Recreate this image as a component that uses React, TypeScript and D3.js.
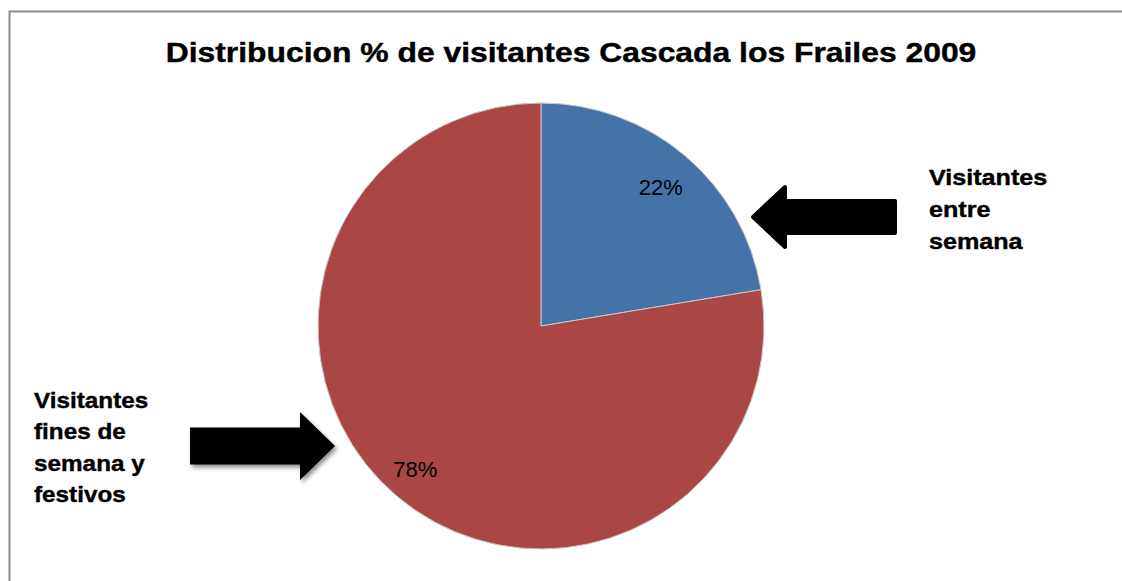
import React from "react";
import * as d3 from "d3";

const title = "Distribucion % de visitantes Cascada los Frailes 2009";
const categories = ["Visitantes entre semana", "Visitantes fines de semana y festivos"];
const values = [22.4, 77.6];
const colors = ["#4572A7", "#AA4643"];
const rightLabelLines = ["Visitantes", "entre", "semana"];
const leftLabelLines = ["Visitantes", "fines de", "semana y", "festivos"];

const W = 1122;
const H = 581;
const cx = 541;
const cy = 326;
const R = 223;

export default function App() {
  const pie = d3.pie<number>().sort(null).value((d) => d)(values);
  const arc = d3.arc<d3.PieArcDatum<number>>().innerRadius(0).outerRadius(R);
  const labelArc = d3.arc<d3.PieArcDatum<number>>().innerRadius(R * 0.83).outerRadius(R * 0.83);
  const total = d3.sum(values);

  const leftArrow = (tipX: number, tipY: number, headX: number, headHalf: number, bodyHalf: number, endX: number) =>
    `M${tipX},${tipY} L${headX},${tipY - headHalf} L${headX},${tipY - bodyHalf} L${endX},${tipY - bodyHalf} L${endX},${tipY + bodyHalf} L${headX},${tipY + bodyHalf} L${headX},${tipY + headHalf} Z`;

  const boldText = {
    fontFamily: "Liberation Sans, Arial, sans-serif",
    fontWeight: "bold" as const,
    fill: "#000",
    stroke: "#000",
    strokeWidth: 0.4,
  };

  return (
    <svg width={W} height={H} style={{ position: "absolute", left: 0, top: 0, background: "#fff" }}>
      <defs>
        <filter id="sh" x="-20%" y="-20%" width="150%" height="160%">
          <feDropShadow dx="2" dy="3" stdDeviation="2" floodColor="#000" floodOpacity="0.45" />
        </filter>
      </defs>
      <rect x={0} y={0} width={W} height={H} fill="#fff" />
      <path d={`M9.5,${H + 2} L9.5,11.5 L${W + 2},11.5`} fill="none" stroke="#8c8c8c" strokeWidth={2} />
      <text transform={`translate(571,62) scale(1.18,1)`} textAnchor="middle" fontSize={27} {...boldText}>
        {title}
      </text>
      <g transform={`translate(${cx},${cy})`}>
        {pie.map((p, i) => (
          <path key={categories[i]} d={arc(p) || ""} fill={colors[i]} stroke="#c8c8c8" strokeWidth={1} />
        ))}
        {pie.map((p, i) => {
          const [lx, ly] = labelArc.centroid(p);
          return (
            <text
              key={"l" + i}
              x={lx + (i === 1 ? -6 : 0)}
              y={ly + 10}
              textAnchor="middle"
              fontFamily="Liberation Sans, Arial, sans-serif"
              fontSize={22}
              fill="#000"
            >
              {Math.round((values[i] / total) * 100) + "%"}
            </text>
          );
        })}
      </g>
      {/* arrow pointing left to the blue slice */}
      <path
        d={leftArrow(753, 217, 785, 30, 16, 895)}
        fill="#000"
        stroke="#000"
        strokeWidth={4}
        strokeLinejoin="round"
      />
      {/* arrow pointing right to the red slice */}
      <g filter="url(#sh)">
        <path d={leftArrow(-335, 446, -300, 34, 18.5, -190)} transform="scale(-1,1)" fill="#000" />
      </g>
      {rightLabelLines.map((t, i) => (
        <text key={"r" + i} transform={`translate(929,${185 + i * 32}) scale(1.17,1)`} fontSize={21.5} {...boldText}>
          {t}
        </text>
      ))}
      {leftLabelLines.map((t, i) => (
        <text key={"lt" + i} transform={`translate(34,${408 + i * 31.3}) scale(1.13,1)`} fontSize={21.5} {...boldText}>
          {t}
        </text>
      ))}
    </svg>
  );
}
